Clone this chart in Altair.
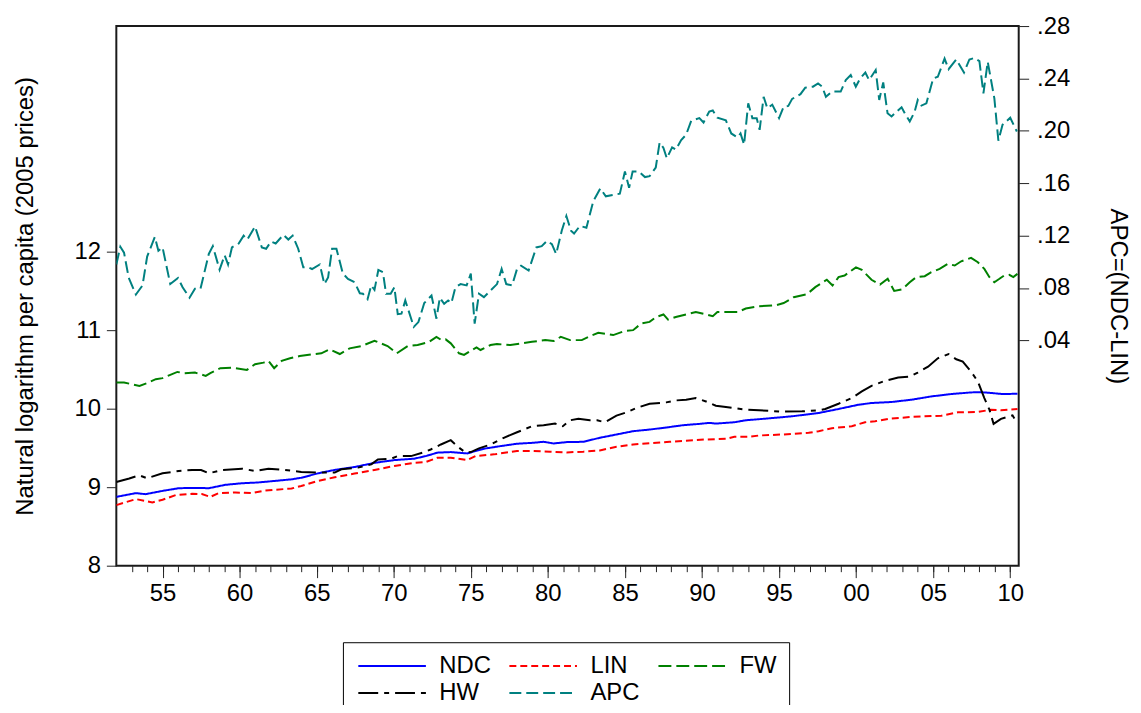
import altair as alt
import pandas as pd

FONT = "Liberation Sans"

# ---- data (years, values) ----
ndc_x = [1952.0, 1953.27, 1953.9, 1955.0, 1956.06, 1957.14, 1958.0, 1959.08, 1960.15, 1961.2,
         1962.3, 1963.37, 1964.0, 1965.1, 1966.17, 1967.46, 1968.75, 1970.04, 1971.33, 1972.08,
         1972.84, 1973.7, 1974.77, 1975.85, 1976.92, 1977.99, 1979.08, 1979.72, 1980.37, 1981.23,
         1982.3, 1983.37, 1984.45, 1985.53, 1986.6, 1987.68, 1988.75, 1989.83, 1990.47, 1990.9,
         1992.1, 1992.84, 1994.13, 1995.85, 1997.57, 1998.86, 2000.15, 2001.0, 2002.3, 2003.6,
         2004.88, 2006.17, 2007.46, 2008.1, 2008.75, 2009.5, 2010.47]
ndc_y = [8.877, 8.924, 8.911, 8.953, 8.987, 8.991, 8.987, 9.03, 9.05, 9.06,
         9.08, 9.10, 9.12, 9.177, 9.22, 9.257, 9.31, 9.345, 9.363, 9.396,
         9.44, 9.447, 9.43, 9.49, 9.523, 9.553, 9.566, 9.578, 9.557, 9.574,
         9.578, 9.629, 9.671, 9.713, 9.734, 9.76, 9.789, 9.806, 9.819, 9.81,
         9.827, 9.852, 9.873, 9.903, 9.945, 9.996, 10.05, 10.072, 10.085, 10.114,
         10.156, 10.186, 10.207, 10.21, 10.2, 10.186, 10.19]

lin_x = [1952.0, 1953.27, 1954.34, 1955.0, 1955.85, 1956.92, 1957.55, 1958.1, 1958.64, 1959.72,
         1960.79, 1961.66, 1963.37, 1964.0, 1965.1, 1966.17, 1967.46, 1968.75, 1970.04, 1971.33,
         1972.08, 1972.84, 1973.7, 1974.77, 1975.3, 1976.5, 1977.99, 1979.08, 1980.15, 1981.23,
         1982.3, 1983.37, 1984.45, 1985.53, 1986.6, 1987.9, 1989.18, 1990.26, 1991.55, 1992.1,
         1993.05, 1993.7, 1995.2, 1996.92, 1997.57, 1998.43, 1999.72, 2000.58, 2001.23, 2002.08,
         2003.6, 2005.53, 2006.6, 2007.9, 2008.75, 2009.4, 2010.47]
lin_y = [8.772, 8.848, 8.806, 8.84, 8.899, 8.916, 8.912, 8.877, 8.924, 8.933,
         8.924, 8.958, 8.983, 9.016, 9.08, 9.127, 9.173, 9.219, 9.27, 9.31,
         9.32, 9.376, 9.376, 9.346, 9.396, 9.418, 9.46, 9.46, 9.452, 9.443,
         9.452, 9.468, 9.515, 9.544, 9.561, 9.578, 9.595, 9.608, 9.616, 9.642,
         9.642, 9.658, 9.671, 9.692, 9.713, 9.751, 9.776, 9.827, 9.84, 9.87,
         9.895, 9.911, 9.953, 9.958, 9.987, 9.979, 9.996]

fw_x = [1952.0, 1952.5, 1953.5, 1954.0, 1954.56, 1955.0, 1955.5, 1955.96, 1956.4, 1957.1,
        1957.8, 1958.1, 1958.75, 1959.5, 1960.47, 1961.0, 1961.55, 1961.87, 1962.24, 1962.73,
        1963.27, 1963.9, 1964.88, 1965.3, 1965.85, 1966.5, 1967.14, 1967.9, 1968.75, 1969.6,
        1970.2, 1970.9, 1971.55, 1972.3, 1972.77, 1973.1, 1973.37, 1973.7, 1974.24, 1974.56,
        1975.0, 1975.37, 1975.63, 1976.28, 1976.7, 1977.57, 1978.97, 1979.83, 1980.37, 1980.84,
        1981.44, 1982.2, 1982.73, 1983.27, 1983.8, 1984.24, 1985.0, 1985.53, 1986.06, 1986.6,
        1987.03, 1987.5, 1987.8, 1988.3, 1988.97, 1989.6, 1990.26, 1990.7, 1991.0, 1991.55,
        1992.3, 1992.84, 1993.7, 1994.77, 1995.3, 1995.95, 1996.8, 1997.35, 1998.1, 1998.47,
        1998.86, 1999.25, 1999.99, 2000.37, 2001.0, 2001.55, 2002.05, 2002.47, 2003.0, 2003.48,
        2003.9, 2004.45, 2004.88, 2005.42, 2005.96, 2006.4, 2006.82, 2007.46, 2007.9, 2008.32,
        2008.65, 2008.97, 2009.3, 2009.6, 2009.94, 2010.2, 2010.47]
fw_y = [10.333, 10.333, 10.29, 10.325, 10.376, 10.389, 10.43, 10.468, 10.452, 10.46,
        10.418, 10.452, 10.515, 10.523, 10.494, 10.566, 10.586, 10.608, 10.515, 10.608,
        10.642, 10.67, 10.696, 10.705, 10.756, 10.696, 10.768, 10.797, 10.865, 10.797,
        10.705, 10.797, 10.81, 10.852, 10.915, 10.873, 10.882, 10.832, 10.705, 10.684,
        10.738, 10.781, 10.747, 10.81, 10.823, 10.81, 10.852, 10.873, 10.861, 10.915,
        10.873, 10.873, 10.924, 10.966, 10.95, 10.937, 10.99, 11.0, 11.085, 11.105,
        11.168, 11.2, 11.135, 11.168, 11.2, 11.23, 11.2, 11.177, 11.23, 11.23,
        11.23, 11.275, 11.304, 11.316, 11.345, 11.42, 11.456, 11.548, 11.642, 11.57,
        11.675, 11.696, 11.80, 11.768, 11.642, 11.58, 11.654, 11.5, 11.52, 11.61,
        11.675, 11.687, 11.738, 11.78, 11.845, 11.823, 11.877, 11.92, 11.865, 11.78,
        11.675, 11.61, 11.654, 11.696, 11.705, 11.675, 11.717]

hw_x = [1952.0, 1952.84, 1953.48, 1954.0, 1955.0, 1956.06, 1956.92, 1957.5, 1958.0, 1958.86,
        1960.15, 1961.0, 1961.87, 1962.95, 1964.0, 1965.3, 1966.17, 1966.6, 1967.68, 1968.54,
        1968.97, 1969.83, 1970.26, 1971.12, 1971.98, 1972.4, 1973.06, 1973.7, 1974.24, 1974.67,
        1975.0, 1975.53, 1976.28, 1977.14, 1978.0, 1978.97, 1979.72, 1980.47, 1980.97, 1981.44,
        1981.98, 1982.73, 1983.2, 1983.7, 1984.45, 1985.1, 1985.74, 1986.6, 1987.68, 1988.32,
        1988.97, 1989.6, 1990.26, 1990.9, 1991.55, 1992.84, 1993.7, 1995.2, 1996.5, 1997.57,
        1998.0, 1998.86, 1999.72, 2000.37, 2001.0, 2001.87, 2002.73, 2003.48, 2004.0, 2004.67,
        2005.3, 2006.0, 2006.5, 2006.92, 2007.46, 2007.9, 2008.32, 2008.65, 2008.92, 2009.4,
        2010.15, 2010.47]
hw_y = [9.067, 9.11, 9.152, 9.114, 9.177, 9.206, 9.219, 9.219, 9.177, 9.219,
        9.236, 9.206, 9.236, 9.219, 9.194, 9.186, 9.186, 9.228, 9.249, 9.29,
        9.354, 9.363, 9.396, 9.396, 9.447, 9.48, 9.544, 9.599, 9.502, 9.44,
        9.447, 9.494, 9.544, 9.629, 9.70, 9.776, 9.789, 9.81, 9.776, 9.852,
        9.87, 9.852, 9.852, 9.827, 9.911, 9.953, 10.009, 10.063, 10.08, 10.105,
        10.114, 10.135, 10.092, 10.038, 10.02, 9.987, 9.979, 9.962, 9.966, 9.979,
        9.996, 10.063, 10.135, 10.22, 10.291, 10.354, 10.396, 10.409, 10.46, 10.535,
        10.642, 10.696, 10.629, 10.599, 10.472, 10.346, 10.135, 9.987, 9.806, 9.87,
        9.915, 9.81]

apc_x = [1952.0, 1952.26, 1952.5, 1952.8, 1953.27, 1953.7, 1954.0, 1954.5, 1954.73, 1955.0,
         1955.5, 1956.0, 1956.3, 1956.75, 1957.1, 1957.46, 1958.0, 1958.26, 1958.7, 1959.03,
         1959.25, 1959.5, 1959.94, 1960.26, 1960.5, 1961.0, 1961.44, 1961.72, 1962.04, 1962.34,
         1962.84, 1963.16, 1963.44, 1963.8, 1964.13, 1964.45, 1964.7, 1965.2, 1965.5, 1965.74,
         1966.0, 1966.28, 1966.7, 1967.03, 1967.46, 1967.8, 1968.0, 1968.3, 1968.54, 1968.75,
         1969.0, 1969.3, 1969.5, 1969.8, 1970.04, 1970.26, 1970.5, 1970.75, 1971.3, 1971.6,
         1971.98, 1972.45, 1972.77, 1972.99, 1973.27, 1973.53, 1973.74, 1974.0, 1974.34, 1974.73,
         1975.0, 1975.25, 1975.53, 1975.85, 1976.17, 1976.7, 1977.0, 1977.3, 1977.68, 1978.0,
         1978.26, 1978.75, 1979.25, 1979.6, 1979.94, 1980.26, 1980.54, 1980.9, 1981.2, 1981.5,
         1981.7, 1982.08, 1982.5, 1982.95, 1983.4, 1983.76, 1984.2, 1984.67, 1985.0, 1985.27,
         1985.5, 1985.9, 1986.3, 1986.6, 1987.0, 1987.25, 1987.5, 1987.72, 1988.06, 1988.3,
         1988.65, 1988.97, 1989.3, 1989.83, 1990.1, 1990.47, 1990.7, 1991.0, 1991.55, 1991.9,
         1992.3, 1992.5, 1992.73, 1993.0, 1993.27, 1993.55, 1993.74, 1994.0, 1994.24, 1994.56,
         1995.0, 1995.3, 1995.6, 1995.85, 1996.39, 1996.7, 1997.2, 1997.53, 1997.8, 1998.04,
         1998.43, 1999.0, 1999.33, 1999.65, 1999.98, 2000.26, 2000.6, 2000.84, 2001.27, 2001.5,
         2001.76, 2002.04, 2002.3, 2002.63, 2002.95, 2003.16, 2003.48, 2003.8, 2004.0, 2004.24,
         2004.56, 2005.0, 2005.3, 2005.74, 2006.0, 2006.5, 2007.0, 2007.35, 2007.68, 2008.0,
         2008.26, 2008.54, 2008.97, 2009.23, 2009.5, 2010.0, 2010.43]
apc_y = [0.098, 0.1115, 0.107, 0.088, 0.075, 0.082, 0.104, 0.119, 0.1085, 0.111,
         0.083, 0.0877, 0.0806, 0.0726, 0.0794, 0.0794, 0.106, 0.112, 0.094, 0.105,
         0.098, 0.111, 0.114, 0.120, 0.117, 0.127, 0.111, 0.110, 0.1155, 0.114,
         0.1206, 0.117, 0.120, 0.110, 0.0958, 0.0958, 0.0945, 0.098, 0.083, 0.088,
         0.110, 0.110, 0.091, 0.087, 0.0844, 0.076, 0.0756, 0.0715, 0.082, 0.0786,
         0.0938, 0.092, 0.0756, 0.0756, 0.0806, 0.060, 0.0604, 0.0705, 0.0503, 0.054,
         0.0685, 0.0743, 0.0566, 0.0726, 0.068, 0.0705, 0.0685, 0.0806, 0.083, 0.082,
         0.091, 0.0528, 0.0756, 0.073, 0.0768, 0.083, 0.0946, 0.083, 0.082, 0.0946,
         0.097, 0.0933, 0.111, 0.112, 0.116, 0.1135, 0.106, 0.1237, 0.135, 0.1237,
         0.1216, 0.1274, 0.126, 0.1464, 0.156, 0.150, 0.151, 0.152, 0.169, 0.1565,
         0.169, 0.169, 0.1647, 0.1654, 0.172, 0.191, 0.187, 0.179, 0.1874, 0.1857,
         0.193, 0.197, 0.2077, 0.2097, 0.2064, 0.2147, 0.2155, 0.210, 0.208, 0.198,
         0.195, 0.198, 0.1895, 0.221, 0.2097, 0.2097, 0.2008, 0.226, 0.2172, 0.220,
         0.2097, 0.2185, 0.219, 0.2244, 0.228, 0.233, 0.2337, 0.2362, 0.2337, 0.226,
         0.230, 0.230, 0.2388, 0.2426, 0.2337, 0.240, 0.2445, 0.2388, 0.2464, 0.2236,
         0.237, 0.2134, 0.211, 0.2147, 0.218, 0.2134, 0.2071, 0.2147, 0.2236, 0.2193,
         0.221, 0.240, 0.2413, 0.2552, 0.2471, 0.2545, 0.2445, 0.2545, 0.2557, 0.2532,
         0.2286, 0.2527, 0.2248, 0.1925, 0.2046, 0.210, 0.1995]

series_order = ["NDC", "LIN", "FW", "HW", "APC"]
series_colors = ["#0000FF", "#FF0000", "#008000", "#000000", "#008080"]
series_dashes = [[1, 0], [7, 4], [13, 5], [20, 6, 5, 6], [12, 5]]

left_ticks = [8, 9, 10, 11, 12]
right_ticks = [0.04, 0.08, 0.12, 0.16, 0.20, 0.24, 0.28]
major_years = list(range(1955, 2011, 5))
minor_years = list(range(1953, 2011))

# ---- tables ----
rows = []
for name, xs, ys in [("NDC", ndc_x, ndc_y), ("LIN", lin_x, lin_y),
                     ("FW", fw_x, fw_y), ("HW", hw_x, hw_y)]:
    for a, b in zip(xs, ys):
        rows.append({"year": a, "value": b, "series": name})
left_df = pd.DataFrame(rows)
apc_df = pd.DataFrame({"year": apc_x, "value": apc_y, "series": "APC"})

xscale = alt.Scale(domain=[1952.0, 2010.55], nice=False, zero=False)

legend = alt.Legend(
    title=None, orient="none", legendX=228, legendY=620, columns=3,
    direction="horizontal",
    symbolType="M-1,0L7,0", symbolSize=289, symbolStrokeWidth=2,
    labelFont=FONT, labelFontSize=24, labelColor="black", labelOffset=61,
    columnPadding=14, rowPadding=3, padding=12,
    strokeColor="black", fillColor="white",
)
color_enc = alt.Color("series:N", scale=alt.Scale(domain=series_order, range=series_colors),
                      legend=legend, sort=series_order)
dash_enc = alt.StrokeDash("series:N", scale=alt.Scale(domain=series_order, range=series_dashes),
                          legend=legend, sort=series_order)

left = alt.Chart(left_df).mark_line(strokeWidth=2, clip=True).encode(
    x=alt.X("year:Q", scale=xscale,
            axis=alt.Axis(values=major_years, orient="bottom", title=None, grid=False,
                          domain=False, tickSize=12, labelPadding=4,
                          labelExpr="substring(toString(datum.value), 2, 4)")),
    y=alt.Y("value:Q", scale=alt.Scale(domain=[8, 14.873], nice=False, zero=False),
            axis=alt.Axis(values=left_ticks, orient="left", grid=False, domain=False,
                          title="Natural logarithm per capita (2005 prices)",
                          tickSize=10, labelPadding=6, titlePadding=37, format="d")),
    color=color_enc,
    strokeDash=dash_enc,
)

right = alt.Chart(apc_df).mark_line(strokeWidth=2, clip=True).encode(
    x=alt.X("year:Q", scale=xscale,
            axis=alt.Axis(values=minor_years, orient="bottom", title=None, grid=False,
                          domain=False, labels=False, tickSize=6)),
    y=alt.Y("value:Q", scale=alt.Scale(domain=[-0.132, 0.28], nice=False, zero=False),
            axis=alt.Axis(values=right_ticks, orient="right", grid=False, domain=False,
                          title="APC=(NDC-LIN)", titleAngle=90,
                          tickSize=10, labelPadding=8, titlePadding=36,
                          labelExpr="replace(format(datum.value, '.2f'), '0.', '.')")),
    color=color_enc,
    strokeDash=dash_enc,
)

chart = alt.layer(left, right).resolve_scale(
    y="independent"
).resolve_axis(
    x="independent"
).properties(
    width=908, height=543,
    padding={"left": 109, "top": 16, "right": 115, "bottom": 138},
    autosize=alt.AutoSizeParams(type="none"),
).configure_view(
    stroke="#1a1a1a", strokeWidth=2
).configure_axis(
    labelFont=FONT, titleFont=FONT, labelFontSize=24, titleFontSize=24,
    titleFontWeight="normal", labelColor="black", titleColor="black",
    tickColor="#222222", tickWidth=1,
)

chart.save("out.html", embed_options={"renderer": "svg", "actions": False})
